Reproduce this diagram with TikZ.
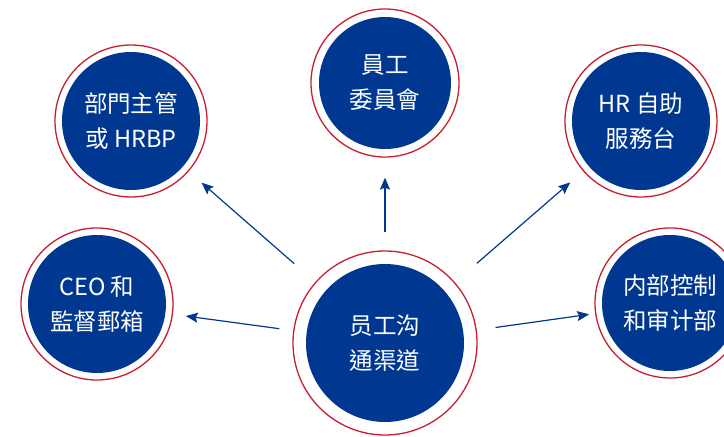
\documentclass[tikz,border=0pt]{standalone}
\usepackage{fontspec}
\setmainfont{Noto Sans CJK TC}
\usetikzlibrary{arrows.meta}
\definecolor{navy}{RGB}{0,56,145}
\definecolor{ringred}{RGB}{200,30,50}
\tikzset{
  bubble/.style={circle, draw=ringred, line width=1.3pt, fill=white,
    minimum size=#1, inner sep=0pt, text=white, align=center,
    font=\fontsize{23.5}{35}\selectfont},
  arr/.style={draw=navy, line width=1.2pt, -{Stealth[length=12pt,width=10pt,inset=2pt]}}
}
\begin{document}
\begin{tikzpicture}[x=1pt,y=-1pt]
\useasboundingbox (0,0) rectangle (724,437);
% centre
\node[bubble=184pt, path picture={\fill[navy] (path picture bounding box.center) circle (79pt);}] (c) at (385,343) {员工沟\\通渠道};
\node[bubble=148pt, path picture={\fill[navy] (path picture bounding box.center) circle (66pt);}] (t) at (385,83) {員工\\委員會};
\node[bubble=152pt, path picture={\fill[navy] (path picture bounding box.center) circle (69pt);}] (tl) at (131,121) {部門主管\\或 HRBP};
\node[bubble=152pt, path picture={\fill[navy] (path picture bounding box.center) circle (69pt);}] (tr) at (641,121) {HR 自助\\服務台};
\node[bubble=152pt, path picture={\fill[navy] (path picture bounding box.center) circle (69pt);}] (l) at (97,304) {CEO 和\\監督郵箱};
\node[bubble=150pt, path picture={\fill[navy] (path picture bounding box.center) circle (68pt);}] (r) at (670,303) {内部控制\\和审计部};
% arrows
\draw[arr, shorten <=28pt, shorten >=17pt] (c) -- (tl);
\draw[arr, shorten <=18pt, shorten >=20pt] (c) -- (t);
\draw[arr, shorten <=29pt, shorten >=17pt] (c) -- (tr);
\draw[arr, shorten <=14pt, shorten >=13pt] (c) -- (l);
\draw[arr, shorten <=19pt, shorten >=6pt] (c) -- (r);
\end{tikzpicture}
\end{document}
